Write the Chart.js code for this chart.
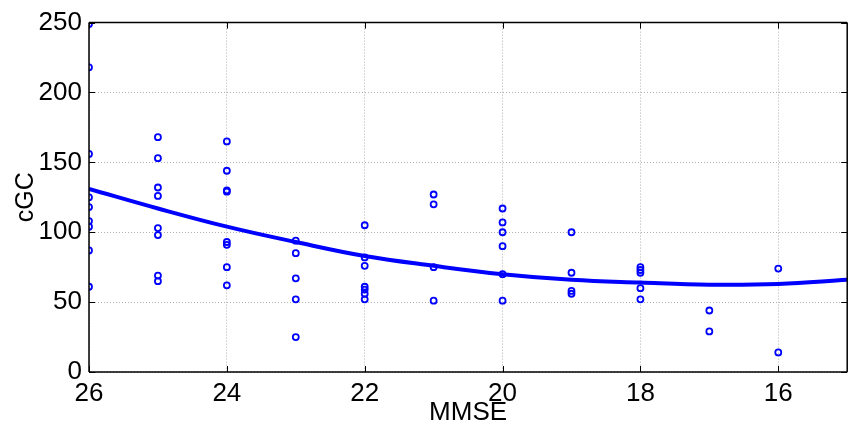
<!DOCTYPE html>
<html>
<head>
<meta charset="utf-8">
<script src="https://cdn.jsdelivr.net/npm/chart.js@4"></script>
<style>
html,body{margin:0;padding:0;background:#fff;overflow:hidden;}
#wrap{width:852px;height:428px;}
</style>
</head>
<body>
<div id="wrap"><canvas id="c" width="852" height="428"></canvas></div>
<script>
// ---- data ----
const mmseValues = [
  26,26,26,26,26,26,26,26,26,
  25,25,25,25,25,25,25,25,
  24,24,24,24,24,24,24,24,
  23,23,23,23,23,
  22,22,22,22,22,22,22,
  21,21,21,21,
  20,20,20,20,20,20,
  19,19,19,19,
  18,18,18,18,18,
  17,17,
  16,16
];
const cgcValues = [
  249,218,156,125,118,108,104,87,61,
  168,153,132,126,103,98,69,65,
  165,144,130,129,93,91,75,62,
  94,85,67,52,25,
  105,82,76,61,59,56,52,
  127,120,75,51,
  117,107,100,90,70,51,
  100,71,58,56,
  75,73,71,60,52,
  44,29,
  74,14
];
const fitMmse = [26,25,24,23,22,21,20,19,18,17,16,15];
const fitCgc  = [131,117,104,93,83,76,70,66,64,62.5,63,66];
const xTickValues = [26,24,22,20,18,16];
const yTickValues = [0,50,100,150,200,250];
const xLabel = 'MMSE';
const yLabel = 'cGC';

const scatterData = mmseValues.map((x,i)=>({x:x,y:cgcValues[i]}));
const fitData = fitMmse.map((x,i)=>({x:x,y:fitCgc[i]}));

const FONT = '"Liberation Sans", Arial, Helvetica, sans-serif';

const framePlugin = {
  id:'frame',
  afterDraw(chart){
    const ctx = chart.ctx, a = chart.chartArea;
    const xs = chart.scales.x, ys = chart.scales.y;
    ctx.save();
    ctx.strokeStyle = '#000';
    ctx.lineWidth = 1.5;
    ctx.beginPath();
    ctx.moveTo(a.left, a.top); ctx.lineTo(a.right, a.top);
    ctx.moveTo(a.left, a.top); ctx.lineTo(a.left, a.bottom);
    ctx.moveTo(a.left, a.bottom); ctx.lineTo(a.right, a.bottom);
    ctx.moveTo(a.right, a.top); ctx.lineTo(a.right, a.bottom);
    ctx.stroke();
    ctx.lineWidth = 1;
    const L = 6;
    ctx.beginPath();
    xTickValues.forEach(v=>{
      const px = Math.round(xs.getPixelForValue(v))+0.5;
      ctx.moveTo(px, a.bottom); ctx.lineTo(px, a.bottom-L);
      ctx.moveTo(px, a.top); ctx.lineTo(px, a.top+L);
    });
    yTickValues.forEach(v=>{
      const py = Math.round(ys.getPixelForValue(v))+0.5;
      ctx.moveTo(a.left, py); ctx.lineTo(a.left+L, py);
      ctx.moveTo(a.right, py); ctx.lineTo(a.right-L, py);
    });
    ctx.stroke();
    ctx.restore();
  }
};

new Chart(document.getElementById('c'), {
  type:'scatter',
  data:{
    datasets:[
      {
        type:'scatter',
        data:scatterData,
        pointStyle:'circle',
        pointRadius:3,
        pointHoverRadius:3,
        borderColor:'#0000ff',
        backgroundColor:'rgba(0,0,0,0)',
        borderWidth:1.8,
        order:2
      },
      {
        type:'line',
        data:fitData,
        borderColor:'#0000ff',
        borderWidth:4,
        pointRadius:0,
        fill:false,
        tension:0.4,
        order:1
      }
    ]
  },
  plugins:[framePlugin],
  options:{
    responsive:false,
    animation:false,
    events:[],
    layout:{padding:{left:0,right:0,top:22,bottom:0}},
    plugins:{legend:{display:false},tooltip:{enabled:false}},
    scales:{
      x:{
        type:'linear',
        reverse:true,
        min:15,
        max:26,
        afterBuildTicks(scale){ scale.ticks = xTickValues.map(v=>({value:v})); },
        afterFit(scale){ scale.height = 56; },
        grid:{
          color:'#b0b0b0',
          lineWidth:1,
          drawTicks:false,
          borderDash:[1,2]
        },
        border:{display:false, dash:[1,2]},
        ticks:{
          color:'#000',
          font:{family:FONT,size:26},
          padding:6,
          maxRotation:0,
          autoSkip:false,
          callback:(v)=>String(v)
        },
        title:{
          display:true,
          text:xLabel,
          color:'#000',
          font:{family:FONT,size:26},
          padding:{top:0,bottom:0}
        }
      },
      y:{
        min:0,
        max:250,
        afterBuildTicks(scale){ scale.ticks = yTickValues.map(v=>({value:v})); },
        afterFit(scale){ scale.width = 89; },
        grid:{
          color:'#b0b0b0',
          lineWidth:1,
          drawTicks:false,
          borderDash:[1,2]
        },
        border:{display:false, dash:[1,2]},
        ticks:{
          color:'#000',
          font:{family:FONT,size:26},
          padding:7,
          autoSkip:false,
          callback:(v)=>String(v)
        },
        title:{
          display:true,
          text:yLabel,
          color:'#000',
          font:{family:FONT,size:25},
          padding:{top:11,bottom:0}
        }
      }
    }
  }
});
</script>
</body>
</html>
